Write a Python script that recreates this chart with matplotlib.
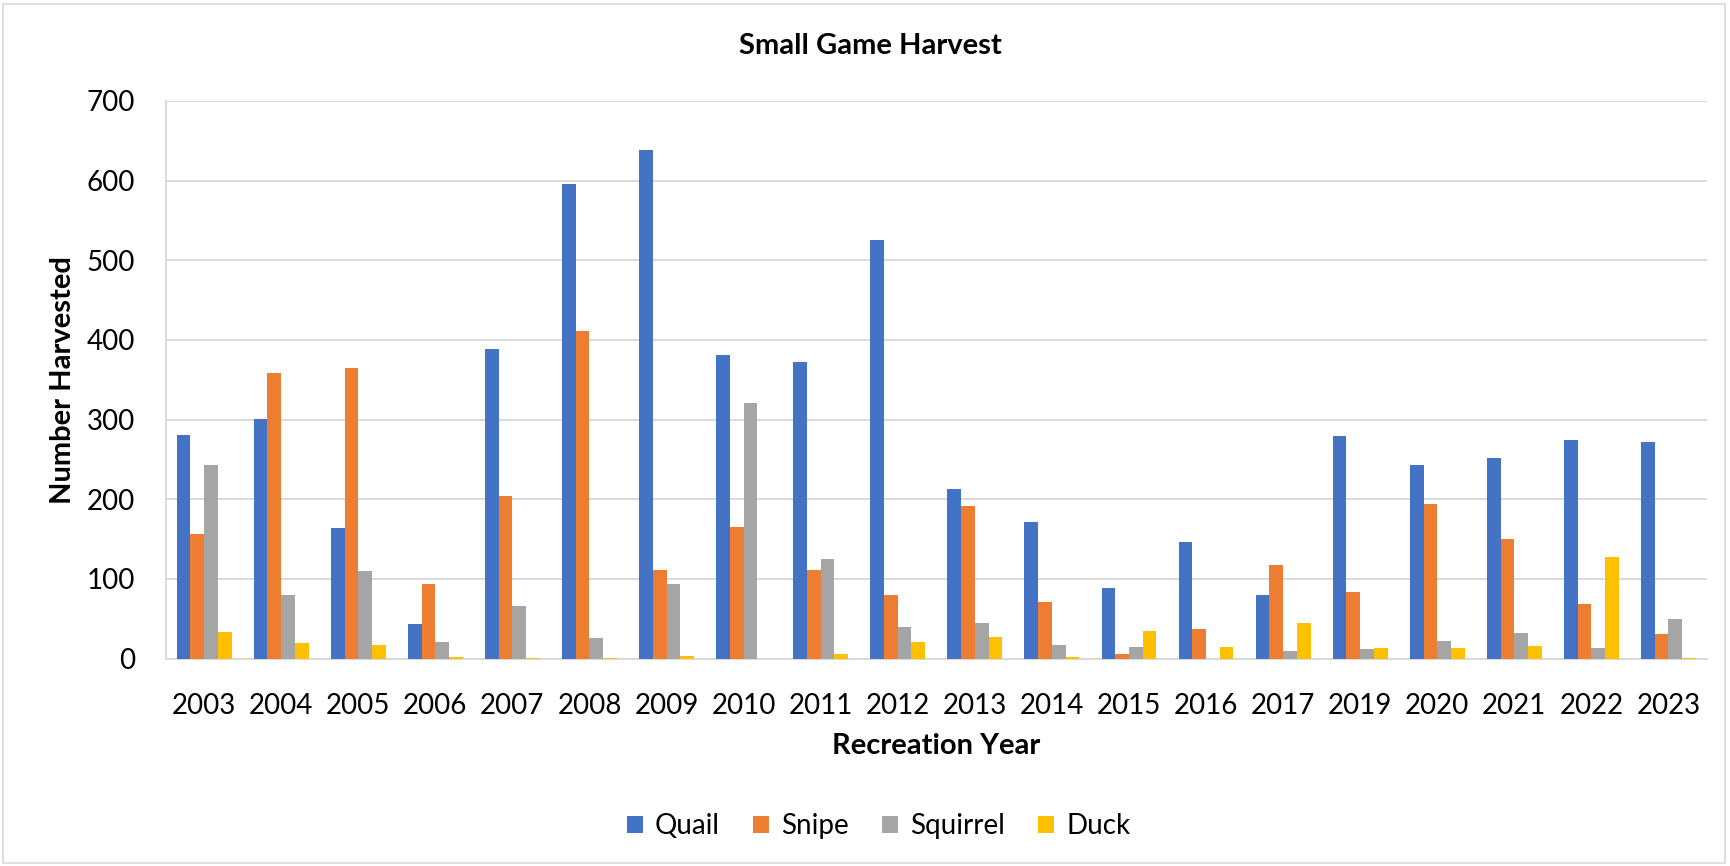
import matplotlib.pyplot as plt
import numpy as np
from matplotlib.patches import Rectangle

plt.rcParams['font.family'] = ['Lato', 'DejaVu Sans']

years = ['2003', '2004', '2005', '2006', '2007', '2008', '2009', '2010', '2011', '2012',
         '2013', '2014', '2015', '2016', '2017', '2019', '2020', '2021', '2022', '2023']
quail = [280, 301, 164, 43, 388, 596, 639, 381, 372, 526,
         213, 171, 88, 146, 80, 279, 243, 252, 274, 272]
snipe = [156, 358, 365, 94, 204, 411, 111, 165, 111, 80,
         192, 71, 6, 37, 118, 83, 194, 150, 69, 31]
squirrel = [243, 80, 110, 21, 66, 26, 93, 321, 125, 39,
            45, 17, 15, 0, 9, 12, 22, 32, 13, 49]
duck = [33, 19, 17, 2, 1, 1, 3, 0, 6, 21,
        27, 2, 35, 15, 45, 13, 13, 16, 128, 1]

series = [('Quail', quail, '#4472C4'),
          ('Snipe', snipe, '#ED7D31'),
          ('Squirrel', squirrel, '#A5A5A5'),
          ('Duck', duck, '#FFC000')]

fig = plt.figure(figsize=(17.3, 8.66), dpi=100)
ax = fig.add_axes([0.0957, 0.2396, 0.8910, 0.6438])

x = np.arange(len(years))
w = 0.178
for i, (name, vals, col) in enumerate(series):
    ax.bar(x + (i - 1.5) * w, vals, width=w, color=col, label=name, zorder=3)

ax.set_xlim(-0.5, len(years) - 0.5)
ax.set_ylim(0, 700)
ax.set_yticks(range(0, 701, 100))
ax.set_xticks(x)
ax.set_xticklabels(years)
ax.tick_params(axis='both', length=0, labelsize=20)
ax.tick_params(axis='x', pad=25)
ax.tick_params(axis='y', pad=22)
ax.grid(axis='y', color='#D9D9D9', linewidth=1.4, zorder=0)

for s in ['top', 'right']:
    ax.spines[s].set_visible(False)
ax.spines['left'].set_color('#D9D9D9')
ax.spines['bottom'].set_color('#D9D9D9')
ax.spines['left'].set_linewidth(1.4)
ax.spines['bottom'].set_linewidth(1.4)

ax.set_xlabel('Recreation Year', fontsize=21, fontweight='bold', labelpad=10)
ax.set_ylabel('Number Harvested', fontsize=21, fontweight='bold', labelpad=8)

fig.text(0.503, 0.947, 'Small Game Harvest', ha='center', va='center',
         fontsize=21, fontweight='bold')

fig.legend(loc='center', bbox_to_anchor=(0.508, 0.046), ncol=4, frameon=False,
           fontsize=20, handlelength=0.55, handleheight=0.55, columnspacing=1.2,
           handletextpad=0.45)

fig.patches.append(Rectangle((0.002, 0.004), 0.995, 0.991, transform=fig.transFigure,
                             fill=False, edgecolor='#D9D9D9', linewidth=1.2))

fig.savefig('out.png', dpi=100)
